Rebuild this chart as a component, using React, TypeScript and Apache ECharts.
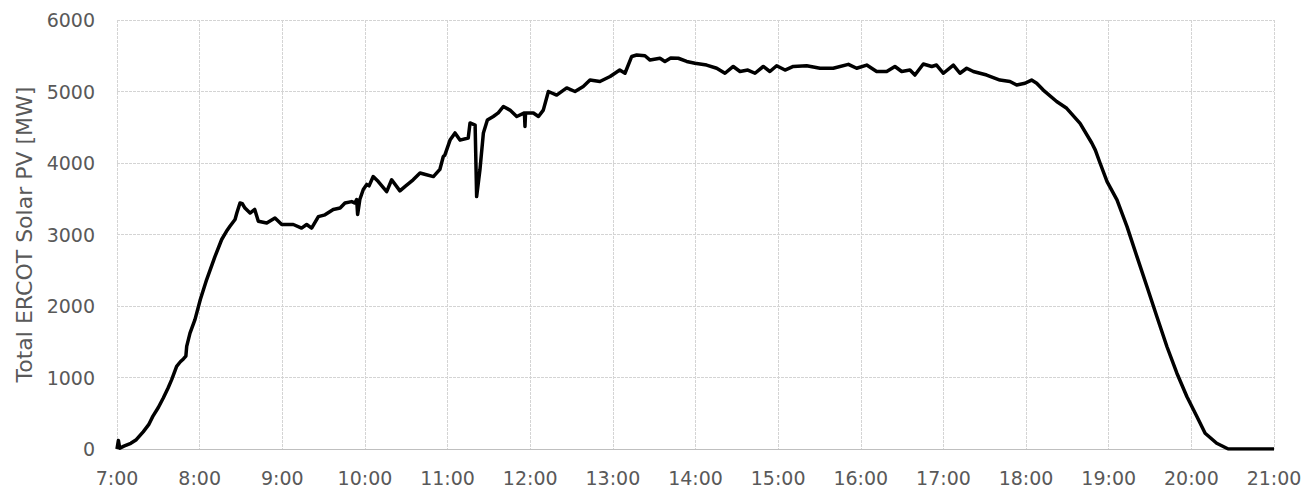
import React, { useEffect, useRef } from "react";
import * as echarts from "echarts";

// minutes after 7:00
const minutes: number[] = [
  0, 1, 2, 5, 10, 14, 19, 23, 26, 30, 33.6, 37, 39.7, 43.3, 46, 48.2, 50, 50.6, 53, 56.6,
  60.5, 65.1, 71.1, 76, 80, 82, 85.7, 87, 89.3, 91, 92.9, 96.6, 100, 102.6, 108.7, 114.7,
  119.6, 128, 134, 137.7, 141.3, 146.2, 151, 157, 162, 165.5, 170.4, 172.8, 174, 174.7,
  176.3, 178.8, 181.3, 183, 186, 189.7, 195.8, 199.4, 205.4, 209, 215, 220, 224, 229.7,
  234.4, 236.9, 238, 241.8, 245.4, 249, 255, 256.3, 260, 261.1, 263.5, 266, 268.9, 273.2,
  276.8, 280.5, 285.3, 290.2, 295.8, 296.2, 296.6, 302.3, 306, 309.5, 313.2, 319.2, 326.5,
  332.5, 338.5, 343.4, 350.6, 358, 365, 368.8, 373.7, 377.3, 383.3, 387, 394.2, 397.8, 402,
  407.5, 413.6, 419.6, 428.1, 435.4, 441.4, 447.4, 452.3, 458, 463.2, 469.2, 474, 478.9,
  485, 491, 500.7, 510.4, 520, 531, 537, 544.3, 551.5, 558.8, 564.8, 569.7, 575.7, 579.3,
  585.4, 591.5, 595, 600, 607.2, 612, 616.9, 621.7, 631.4, 641, 648.3, 653.2, 659.2, 664,
  667.7, 672.5, 682.2, 689.5, 699.2, 707.7, 710.3, 713.7, 718.8, 726, 733.3, 740.5, 747.8,
  755, 762.3, 769.5, 776.8, 784, 790, 798.4, 806.8, 840,
];

const solarMW: number[] = [
  0, 120, 10, 40, 80, 130, 240, 340, 456, 580, 714, 850, 970, 1156, 1220, 1260, 1300, 1436, 1620, 1810,
  2090, 2370, 2690, 2930, 3060, 3115, 3210, 3300, 3440, 3430, 3370, 3300, 3350, 3185, 3160, 3230,
  3140, 3140, 3090, 3140, 3090, 3250, 3275, 3350, 3370, 3440, 3460, 3440, 3490, 3280,
  3490, 3630, 3700, 3680, 3810, 3740, 3600, 3765, 3610, 3670, 3765, 3860, 3840, 3810,
  3910, 4090, 4110, 4320, 4420, 4320, 4350, 4560, 4530, 3530, 3905, 4420, 4600, 4650,
  4700, 4790, 4740, 4650, 4700, 4510, 4700, 4700, 4650, 4740, 5000, 4950, 5050,
  5000, 5070, 5160, 5140, 5210, 5300, 5255, 5490, 5510, 5500, 5440, 5465, 5420, 5470,
  5465, 5420, 5395, 5370, 5325, 5255, 5350, 5280, 5300, 5255, 5350, 5280, 5360,
  5300, 5350, 5360, 5325, 5325, 5380, 5325, 5370, 5280, 5280, 5350, 5280, 5300, 5230,
  5385, 5350, 5370, 5255, 5370, 5255, 5325, 5280, 5230, 5160, 5140, 5090, 5115, 5160,
  5115, 5020, 4860, 4765, 4555, 4280, 4180, 4000, 3740, 3485, 3110, 2690, 2270,
  1850, 1430, 1060, 730, 455, 220, 80, 0, 0,
];

const yAxisTitle = "Total ERCOT Solar PV [MW]";
const startHour = 7;

export default function App() {
  const ref = useRef<HTMLDivElement>(null);
  useEffect(() => {
    if (!ref.current) return;
    const chart = echarts.init(ref.current, undefined, { renderer: "svg" });
    const data = minutes.map((m, i) => [m, solarMW[i]]);
    const font = "'DejaVu Sans', sans-serif";
    const grid = { type: [3, 1] as any, color: "#d4d4d4", width: 1 };
    chart.setOption({
      animation: false,
      backgroundColor: "#ffffff",
      grid: { left: 117, right: 40, top: 20, bottom: 42, containLabel: false },
      xAxis: {
        type: "value",
        min: 0,
        max: 840,
        interval: 60,
        axisLine: { show: true, lineStyle: { color: "#bfbfbf", width: 1 } },
        axisTick: { show: false },
        splitLine: { show: true, lineStyle: grid },
        axisLabel: {
          color: "#595959",
          fontSize: 19,
          fontFamily: font,
          margin: 19,
          formatter: (v: number) => `${startHour + v / 60}:00`,
        },
      },
      yAxis: {
        type: "value",
        min: 0,
        max: 6000,
        interval: 1000,
        name: yAxisTitle,
        nameLocation: "middle",
        nameGap: 82,
        nameRotate: 90,
        nameTextStyle: { color: "#595959", fontSize: 22, fontFamily: font },
        axisLine: { show: false },
        axisTick: { show: false },
        splitLine: { show: true, lineStyle: grid },
        axisLabel: {
          color: "#595959",
          fontSize: 19,
          fontFamily: font,
          margin: 22,
          formatter: (v: number) => String(v),
        },
      },
      series: [
        {
          type: "line",
          data,
          showSymbol: false,
          symbol: "none",
          lineStyle: { color: "#000000", width: 3.5, join: "round" },
        },
      ],
    });
    return () => chart.dispose();
  }, []);
  return (
    <div
      ref={ref}
      style={{ position: "absolute", left: 0, top: 0, width: 1314, height: 491 }}
    />
  );
}
